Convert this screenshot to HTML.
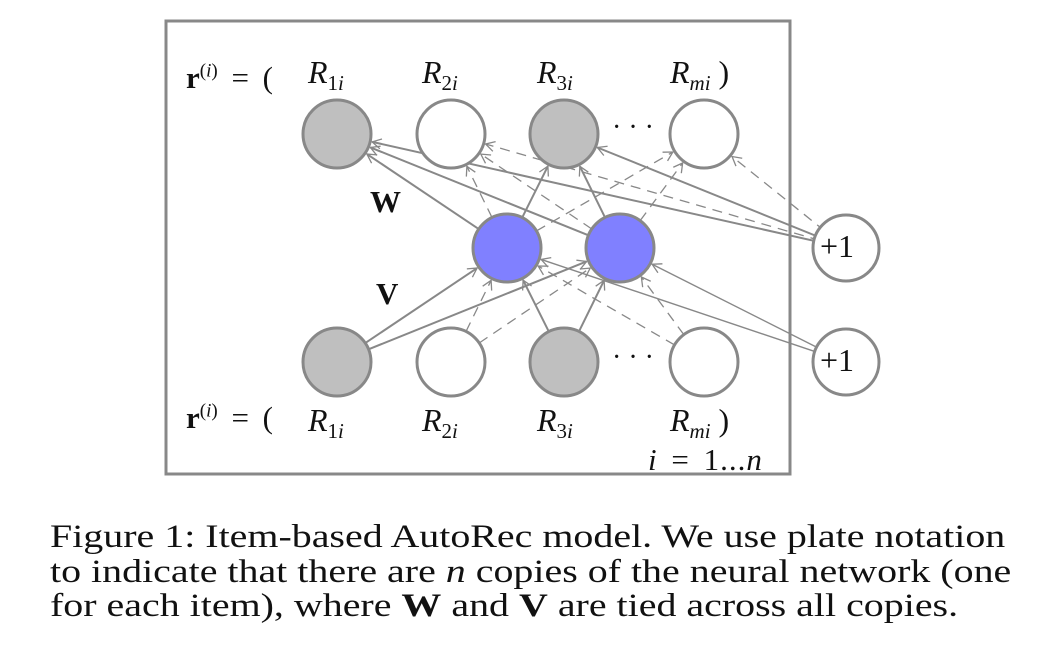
<!DOCTYPE html>
<html><head><meta charset="utf-8"><style>
html,body{margin:0;padding:0;background:#fff;width:1052px;height:668px;overflow:hidden}
.t{position:absolute;font-family:"Liberation Serif",serif;color:#111;white-space:nowrap}
i{font-style:italic}
.s{font-size:21px;position:relative;top:7px}
.cap{position:absolute;left:50px;font-family:"Liberation Serif",serif;font-size:33px;color:#111;white-space:nowrap;transform:scaleX(1.21);transform-origin:0 0}
</style></head><body>
<svg id="s" width="1052" height="668" style="position:absolute;left:0;top:0">
<defs><marker id="a" markerWidth="12" markerHeight="12" refX="10" refY="6" orient="auto" markerUnits="userSpaceOnUse"><path d="M1,1 L10,6 L1,11" fill="none" stroke="#888" stroke-width="1.3"/></marker></defs>
<rect x="166" y="21" width="624" height="453" fill="none" stroke="#888" stroke-width="3"/>
<g id="e"></g>
<g id="n" stroke="#888" stroke-width="3"></g>
</svg>
<div class="t" style="left:186px;top:60px;font-size:31px;word-spacing:6px"><b>r</b><sup style="font-size:19px">(<i>i</i>)</sup> = (</div>
<div class="t" style="left:308px;top:54px;font-size:32px"><i>R</i><span class="s">1<i>i</i></span></div>
<div class="t" style="left:422px;top:54px;font-size:32px"><i>R</i><span class="s">2<i>i</i></span></div>
<div class="t" style="left:537px;top:54px;font-size:32px"><i>R</i><span class="s">3<i>i</i></span></div>
<div class="t" style="left:670px;top:54px;font-size:32px"><i>R</i><span class="s"><i>mi</i></span> )</div>
<div class="t" style="left:186px;top:400px;font-size:31px;word-spacing:6px"><b>r</b><sup style="font-size:19px">(<i>i</i>)</sup> = (</div>
<div class="t" style="left:308px;top:402px;font-size:32px"><i>R</i><span class="s">1<i>i</i></span></div>
<div class="t" style="left:422px;top:402px;font-size:32px"><i>R</i><span class="s">2<i>i</i></span></div>
<div class="t" style="left:537px;top:402px;font-size:32px"><i>R</i><span class="s">3<i>i</i></span></div>
<div class="t" style="left:670px;top:402px;font-size:32px"><i>R</i><span class="s"><i>mi</i></span> )</div>
<div class="t" style="left:648px;top:442px;font-size:31px;letter-spacing:1px;word-spacing:5px"><i>i</i> = 1...<i>n</i></div>
<div class="t" style="left:370px;top:184px;font-size:31px"><b>W</b></div>
<div class="t" style="left:376px;top:276px;font-size:31px"><b>V</b></div>
<div class="t" style="left:612px;top:112px;font-size:28px">· · ·</div>
<div class="t" style="left:612px;top:342px;font-size:28px">· · ·</div>
<div class="t" style="left:820px;top:228px;font-size:32px">+1</div>
<div class="t" style="left:820px;top:342px;font-size:32px">+1</div>
<div class="cap" style="top:519px">Figure 1: Item-based AutoRec model. We use plate notation</div>
<div class="cap" style="top:554px">to indicate that there are <i>n</i> copies of the neural network (one</div>
<div class="cap" style="top:588px">for each item), where <b>W</b> and <b>V</b> are tied across all copies.</div>
<script>
var NS="http://www.w3.org/2000/svg";
var T=[[337,134],[451,134],[564,134],[704,134]],B=[[337,362],[451,362],[564,362],[704,362]],H=[[507,248],[620,248]],P=[[846,248],[846,362]];
var R=34,e=document.getElementById('e'),n=document.getElementById('n');
function L(a,b,dash,w,ra,rb){var dx=b[0]-a[0],dy=b[1]-a[1],d=Math.hypot(dx,dy),ux=dx/d,uy=dy/d;
var l=document.createElementNS(NS,'line');l.setAttribute('x1',a[0]+ux*ra);l.setAttribute('y1',a[1]+uy*ra);
l.setAttribute('x2',b[0]-ux*(rb+2));l.setAttribute('y2',b[1]-uy*(rb+2));l.setAttribute('stroke','#888');
l.setAttribute('stroke-width',w);if(dash)l.setAttribute('stroke-dasharray','10,7');l.setAttribute('marker-end','url(#a)');e.appendChild(l);}
for(var h=0;h<2;h++)for(var t=0;t<4;t++)L(H[h],T[t],t%2==1,t%2?1.3:2,R,R);
for(var b=0;b<4;b++)for(var h=0;h<2;h++)L(B[b],H[h],b%2==1,b%2?1.3:2,R,R);
for(var t=0;t<4;t++)L(P[0],T[t],t%2==1,t%2?1.3:2,10,R);
for(var h=0;h<2;h++)L(P[1],H[h],false,1.4,10,R);
function C(p,f,r){var c=document.createElementNS(NS,'ellipse');c.setAttribute('cx',p[0]);c.setAttribute('cy',p[1]);c.setAttribute('rx',r);c.setAttribute('ry',r);c.setAttribute('fill',f);n.appendChild(c);}
T.forEach(function(p,i){C(p,i%2?'#fff':'#bfbfbf',R)});B.forEach(function(p,i){C(p,i%2?'#fff':'#bfbfbf',R)});
H.forEach(function(p){C(p,'#8080ff',R)});P.forEach(function(p){C(p,'#fff',33)});
</script>
</body></html>
